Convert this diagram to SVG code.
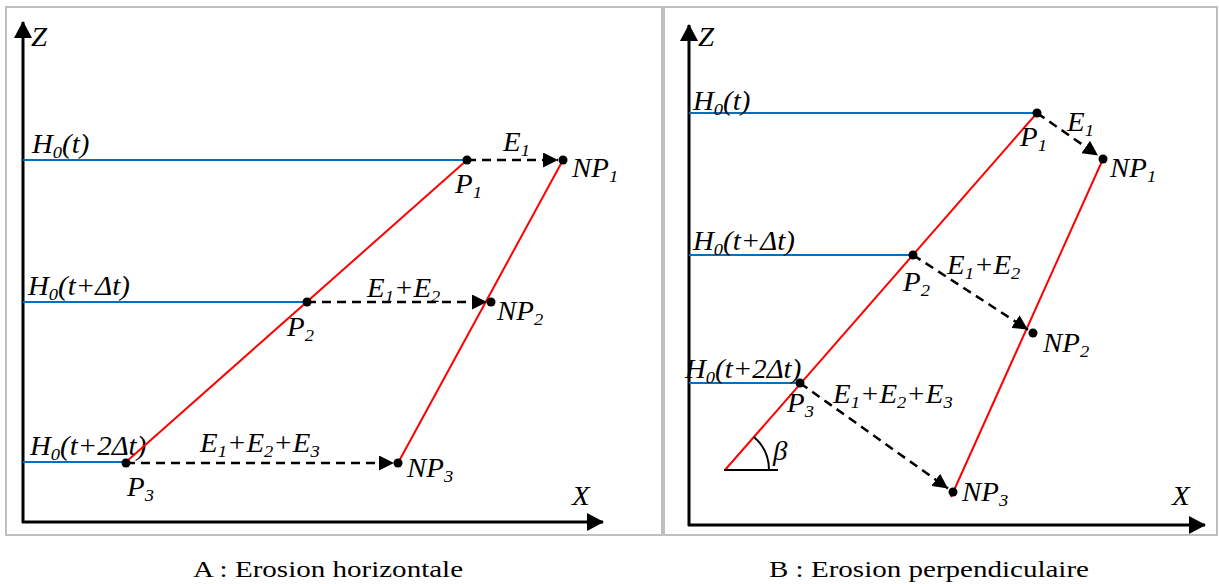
<svg xmlns="http://www.w3.org/2000/svg" width="1219" height="584" viewBox="0 0 1219 584">
<style>
.frame{fill:none;stroke:#BFBFBF;stroke-width:2}
.axis{stroke:#000;stroke-width:3;fill:none}
.blue{stroke:#0070C0;stroke-width:2;fill:none}
.red{stroke:#FF0000;stroke-width:2;fill:none}
.dash{stroke:#000;stroke-width:2.5;stroke-dasharray:9 6;fill:none;marker-end:url(#ah)}
.dot{fill:#000}
.lbl{font-family:"Liberation Serif","Times New Roman",serif;font-style:italic;font-size:26.5px;fill:#000}
.sub{font-size:17px}
.cap{font-family:"Liberation Serif","Times New Roman",serif;font-size:24px;fill:#000}
</style>
<defs>
<marker id="ah" markerUnits="userSpaceOnUse" markerWidth="15" markerHeight="15" refX="15" refY="7.5" orient="auto">
<path d="M0,0 L15,7.5 L0,15 z" fill="#000"/>
</marker>
<marker id="axh" markerUnits="userSpaceOnUse" markerWidth="17" markerHeight="18" refX="16" refY="9" orient="auto">
<path d="M0,0 L17,9 L0,18 z" fill="#000"/>
</marker>
</defs>
<rect width="1219" height="584" fill="#fff"/>
<rect class="frame" x="6" y="7" width="656" height="528"/>
<rect class="frame" x="664" y="7" width="553" height="528"/>

<g id="panelA">
<g id="A-axes">
<line class="axis" x1="23" y1="523" x2="23" y2="22" marker-end="url(#axh)"/>
<line class="axis" x1="22" y1="522" x2="603" y2="522" marker-end="url(#axh)"/>
<text class="lbl" transform="translate(31,46) scale(1.09,1)">Z</text>
<text class="lbl" transform="translate(572,505) scale(1.09,1)">X</text>
</g>
<g id="A-levels">
<line class="blue" x1="23" y1="160" x2="467" y2="160"/>
<line class="blue" x1="23" y1="302" x2="307" y2="302"/>
<line class="blue" x1="23" y1="462" x2="126" y2="462"/>
<text class="lbl" transform="translate(32,153) scale(1.09,1)">H<tspan class="sub" dy="5">0</tspan><tspan dy="-5">(t)</tspan></text>
<text class="lbl" transform="translate(28,295) scale(1.09,1)">H<tspan class="sub" dy="5">0</tspan><tspan dy="-5">(t+Δt)</tspan></text>
<text class="lbl" transform="translate(30,455) scale(1.09,1)">H<tspan class="sub" dy="5">0</tspan><tspan dy="-5">(t+2Δt)</tspan></text>
</g>
<g id="A-profiles">
<line class="red" x1="126" y1="462" x2="467" y2="160"/>
<line class="red" x1="398" y1="463" x2="563" y2="160"/>
</g>
<g id="A-connectors">
<line class="dash" x1="467" y1="160" x2="558" y2="160"/>
<line class="dash" x1="307" y1="302" x2="487" y2="302"/>
<line class="dash" x1="126" y1="463" x2="394" y2="463"/>
</g>
<g id="A-points">
<circle class="dot" cx="467" cy="160" r="4.5"/>
<circle class="dot" cx="563" cy="160" r="4.5"/>
<circle class="dot" cx="307" cy="302" r="4.5"/>
<circle class="dot" cx="491" cy="302" r="4.5"/>
<circle class="dot" cx="126" cy="463" r="4.5"/>
<circle class="dot" cx="398" cy="463" r="4.5"/>
<text class="lbl" transform="translate(503,151) scale(1.09,1)">E<tspan class="sub" dy="5">1</tspan></text>
<text class="lbl" transform="translate(455,193) scale(1.09,1)">P<tspan class="sub" dy="5">1</tspan></text>
<text class="lbl" transform="translate(572,177) scale(1.09,1)">NP<tspan class="sub" dy="5">1</tspan></text>
<text class="lbl" transform="translate(367,297) scale(1.09,1)">E<tspan class="sub" dy="5">1</tspan><tspan dy="-5">+E</tspan><tspan class="sub" dy="5">2</tspan></text>
<text class="lbl" transform="translate(287,336) scale(1.09,1)">P<tspan class="sub" dy="5">2</tspan></text>
<text class="lbl" transform="translate(497,320) scale(1.09,1)">NP<tspan class="sub" dy="5">2</tspan></text>
<text class="lbl" transform="translate(200,452) scale(1.09,1)">E<tspan class="sub" dy="5">1</tspan><tspan dy="-5">+E</tspan><tspan class="sub" dy="5">2</tspan><tspan dy="-5">+E</tspan><tspan class="sub" dy="5">3</tspan></text>
<text class="lbl" transform="translate(127,496) scale(1.09,1)">P<tspan class="sub" dy="5">3</tspan></text>
<text class="lbl" transform="translate(407,477) scale(1.09,1)">NP<tspan class="sub" dy="5">3</tspan></text>
</g>
</g>

<g id="panelB">
<g id="B-axes">
<line class="axis" x1="689" y1="526" x2="689" y2="25" marker-end="url(#axh)"/>
<line class="axis" x1="688" y1="525" x2="1205" y2="525" marker-end="url(#axh)"/>
<text class="lbl" transform="translate(698,46) scale(1.09,1)">Z</text>
<text class="lbl" transform="translate(1172,505) scale(1.09,1)">X</text>
</g>
<g id="B-levels">
<line class="blue" x1="689" y1="113" x2="1037" y2="113"/>
<line class="blue" x1="689" y1="255" x2="913" y2="255"/>
<line class="blue" x1="689" y1="383" x2="800" y2="383"/>
<text class="lbl" transform="translate(693,110) scale(1.09,1)">H<tspan class="sub" dy="5">0</tspan><tspan dy="-5">(t)</tspan></text>
<text class="lbl" transform="translate(693,250) scale(1.09,1)">H<tspan class="sub" dy="5">0</tspan><tspan dy="-5">(t+Δt)</tspan></text>
<text class="lbl" transform="translate(685,378) scale(1.09,1)">H<tspan class="sub" dy="5">0</tspan><tspan dy="-5">(t+2Δt)</tspan></text>
</g>
<g id="B-profiles">
<line class="red" x1="725" y1="470" x2="1037" y2="113"/>
<line class="red" x1="951" y1="497" x2="1103" y2="159"/>
</g>
<g id="B-angle">
<line stroke="#000" stroke-width="2" x1="724" y1="470" x2="778" y2="470"/>
<path d="M754,437 A44,44 0 0 1 769,470" fill="none" stroke="#000" stroke-width="2"/>
<text class="lbl" transform="translate(773,460) scale(1.09,1)">β</text>
</g>
<g id="B-connectors">
<line class="dash" x1="1037" y1="113" x2="1098" y2="155.5"/>
<line class="dash" x1="913" y1="255" x2="1028" y2="329.7"/>
<line class="dash" x1="800" y1="383" x2="948" y2="488.5"/>
</g>
<g id="B-points">
<circle class="dot" cx="1037" cy="113" r="4.5"/>
<circle class="dot" cx="1103" cy="159" r="4.5"/>
<circle class="dot" cx="913" cy="255" r="4.5"/>
<circle class="dot" cx="1033" cy="333" r="4.5"/>
<circle class="dot" cx="800" cy="383" r="4.5"/>
<circle class="dot" cx="953" cy="492" r="4.5"/>
<text class="lbl" transform="translate(1067,131) scale(1.09,1)">E<tspan class="sub" dy="5">1</tspan></text>
<text class="lbl" transform="translate(1020,146) scale(1.09,1)">P<tspan class="sub" dy="5">1</tspan></text>
<text class="lbl" transform="translate(1110,177) scale(1.09,1)">NP<tspan class="sub" dy="5">1</tspan></text>
<text class="lbl" transform="translate(947,274) scale(1.09,1)">E<tspan class="sub" dy="5">1</tspan><tspan dy="-5">+E</tspan><tspan class="sub" dy="5">2</tspan></text>
<text class="lbl" transform="translate(903,291) scale(1.09,1)">P<tspan class="sub" dy="5">2</tspan></text>
<text class="lbl" transform="translate(1043,352) scale(1.09,1)">NP<tspan class="sub" dy="5">2</tspan></text>
<text class="lbl" transform="translate(833,403) scale(1.09,1)">E<tspan class="sub" dy="5">1</tspan><tspan dy="-5">+E</tspan><tspan class="sub" dy="5">2</tspan><tspan dy="-5">+E</tspan><tspan class="sub" dy="5">3</tspan></text>
<text class="lbl" transform="translate(787,412) scale(1.09,1)">P<tspan class="sub" dy="5">3</tspan></text>
<text class="lbl" transform="translate(962,501) scale(1.09,1)">NP<tspan class="sub" dy="5">3</tspan></text>
</g>
</g>

<g id="captions">
<text class="cap" transform="translate(193,577) scale(1.21,1)">A : Erosion horizontale</text>
<text class="cap" transform="translate(769,577) scale(1.21,1)">B : Erosion perpendiculaire</text>
</g>
</svg>
